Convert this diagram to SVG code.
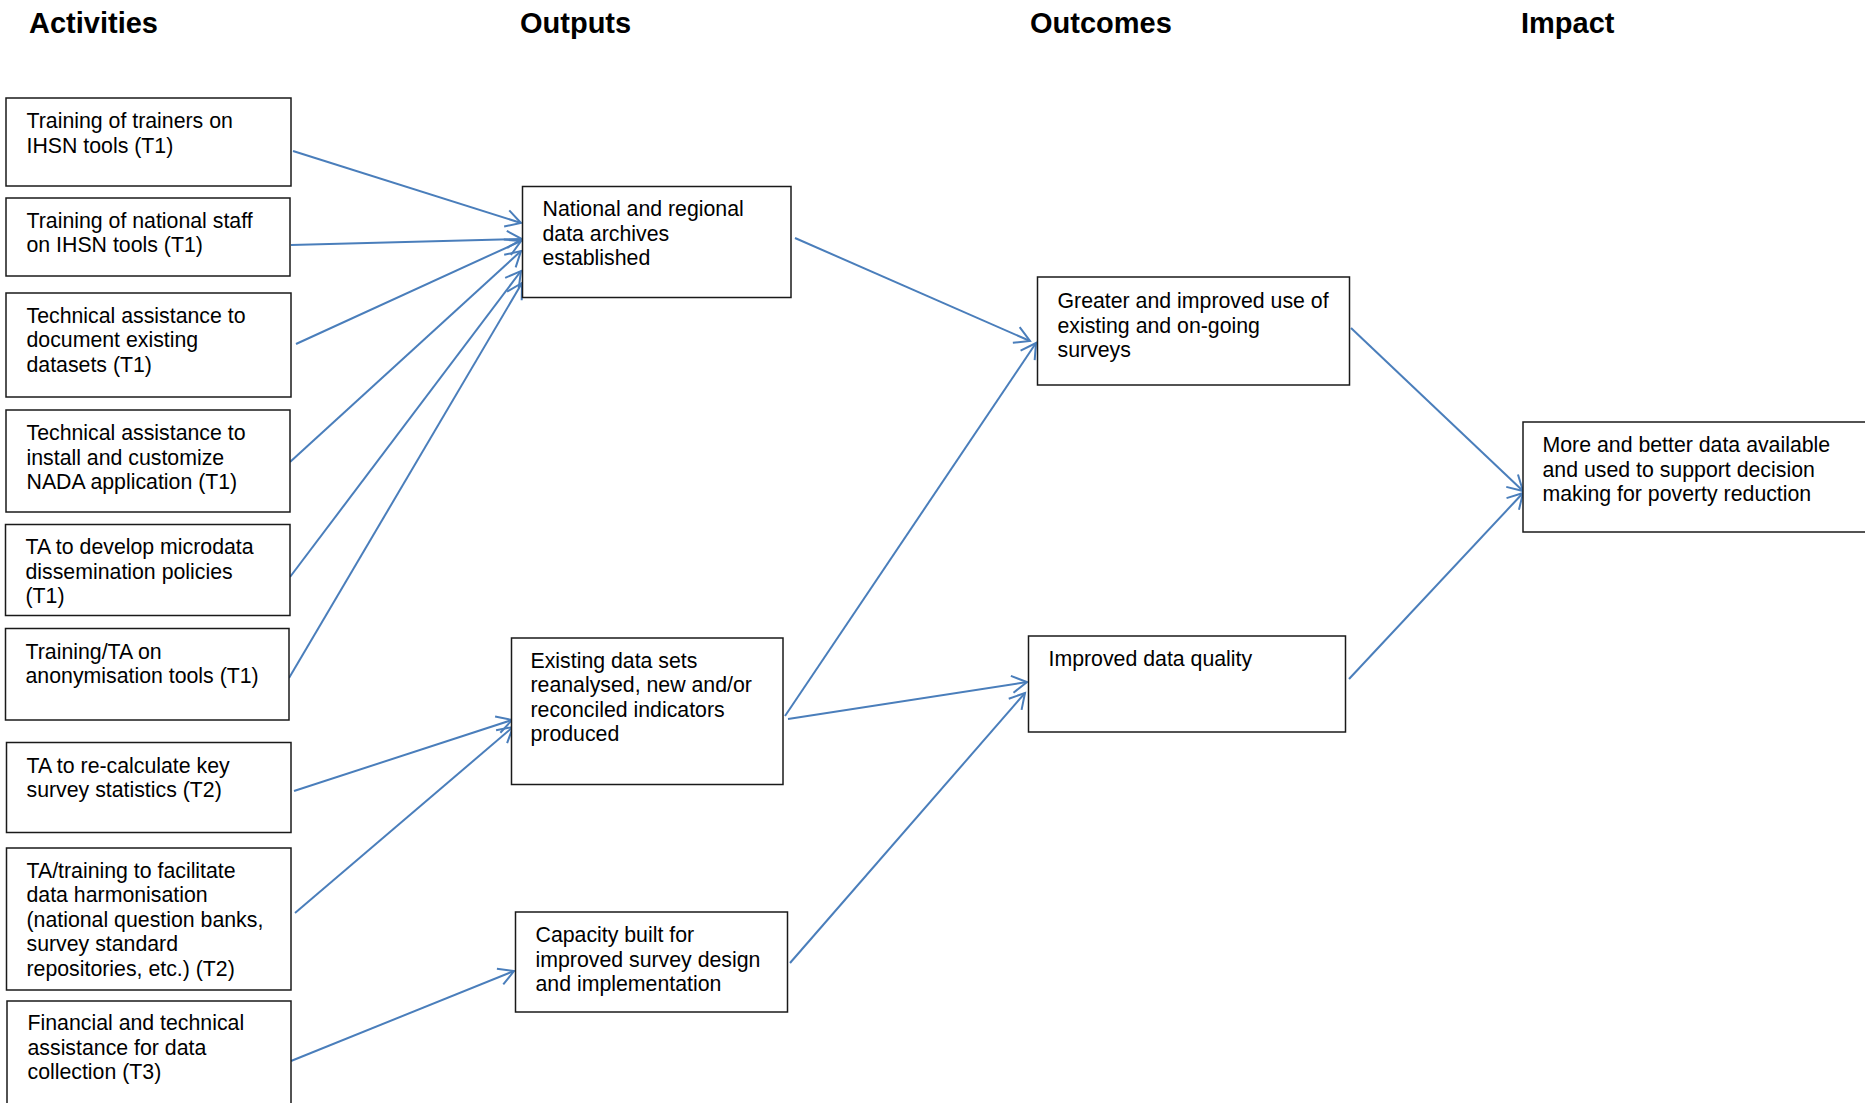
<svg xmlns="http://www.w3.org/2000/svg" width="1865" height="1103" viewBox="0 0 1865 1103">
<style>
.hdr{font-family:"Liberation Sans",Arial,sans-serif;font-size:29px;font-weight:bold;fill:#000}
.box{fill:#fff;stroke:#1a1a1a;stroke-width:1.5}
.t{font-family:"Liberation Sans",Arial,sans-serif;font-size:21.3px;fill:#000}
.c{stroke:#4A7EBB;stroke-width:2;fill:none;marker-end:url(#arr)}
</style>
<defs>
<marker id="arr" markerUnits="userSpaceOnUse" markerWidth="40" markerHeight="40" refX="0" refY="0" viewBox="-20 -20 40 40" orient="auto" overflow="visible">
<path d="M-15,-8.5 L0,0 L-15,8.5" fill="none" stroke="#4A7EBB" stroke-width="2"/>
</marker>
</defs>
<rect width="1865" height="1103" fill="#fff"/>
<g id="headers">
<text class="hdr" x="29" y="33">Activities</text>
<text class="hdr" x="520" y="33">Outputs</text>
<text class="hdr" x="1030" y="33">Outcomes</text>
<text class="hdr" x="1521" y="33">Impact</text>
</g>
<g id="connectors">
<line class="c" x1="293" y1="151" x2="521" y2="223"/>
<line class="c" x1="291" y1="245" x2="522" y2="239"/>
<line class="c" x1="296" y1="344" x2="521" y2="241"/>
<line class="c" x1="290" y1="462" x2="521" y2="251"/>
<line class="c" x1="290" y1="577" x2="521" y2="271"/>
<line class="c" x1="289" y1="678" x2="522" y2="283"/>
<line class="c" x1="294" y1="791" x2="512" y2="720"/>
<line class="c" x1="295" y1="913" x2="513" y2="727"/>
<line class="c" x1="291" y1="1061" x2="514" y2="971"/>
<line class="c" x1="795" y1="238" x2="1030" y2="341"/>
<line class="c" x1="785" y1="716" x2="1036" y2="343"/>
<line class="c" x1="788" y1="719" x2="1027" y2="682"/>
<line class="c" x1="790" y1="963" x2="1025" y2="693"/>
<line class="c" x1="1351" y1="328" x2="1523" y2="491"/>
<line class="c" x1="1349" y1="679" x2="1523" y2="493"/>
</g>
<g id="a1"><rect class="box" x="6" y="98" width="285" height="88"/>
<text class="t" x="26.5" y="128">Training of trainers on</text>
<text class="t" x="26.5" y="152.5">IHSN tools (T1)</text></g>
<g id="a2"><rect class="box" x="6" y="198" width="284" height="78"/>
<text class="t" x="26.5" y="227.5">Training of national staff</text>
<text class="t" x="26.5" y="252">on IHSN tools (T1)</text></g>
<g id="a3"><rect class="box" x="6" y="293" width="285" height="104"/>
<text class="t" x="26.5" y="322.5">Technical assistance to</text>
<text class="t" x="26.5" y="347">document existing</text>
<text class="t" x="26.5" y="371.5">datasets (T1)</text></g>
<g id="a4"><rect class="box" x="6" y="410" width="284" height="102"/>
<text class="t" x="26.5" y="440">Technical assistance to</text>
<text class="t" x="26.5" y="464.5">install and customize</text>
<text class="t" x="26.5" y="489">NADA application (T1)</text></g>
<g id="a5"><rect class="box" x="5.5" y="524.5" width="284.5" height="91"/>
<text class="t" x="25.5" y="554">TA to develop microdata</text>
<text class="t" x="25.5" y="578.5">dissemination policies</text>
<text class="t" x="25.5" y="603">(T1)</text></g>
<g id="a6"><rect class="box" x="5.5" y="628.5" width="283.5" height="91.5"/>
<text class="t" x="25.5" y="658.5">Training/TA on</text>
<text class="t" x="25.5" y="683">anonymisation tools (T1)</text></g>
<g id="a7"><rect class="box" x="6.5" y="742.5" width="284.5" height="90"/>
<text class="t" x="26.5" y="772.5">TA to re-calculate key</text>
<text class="t" x="26.5" y="797">survey statistics (T2)</text></g>
<g id="a8"><rect class="box" x="6.5" y="848" width="284.5" height="142"/>
<text class="t" x="26.5" y="877.5">TA/training to facilitate</text>
<text class="t" x="26.5" y="902">data harmonisation</text>
<text class="t" x="26.5" y="926.5">(national question banks,</text>
<text class="t" x="26.5" y="951">survey standard</text>
<text class="t" x="26.5" y="975.5">repositories, etc.) (T2)</text></g>
<g id="a9"><rect class="box" x="7" y="1001" width="284" height="130"/>
<text class="t" x="27.5" y="1030">Financial and technical</text>
<text class="t" x="27.5" y="1054.5">assistance for data</text>
<text class="t" x="27.5" y="1079">collection (T3)</text></g>
<g id="o1"><rect class="box" x="522.5" y="186.5" width="268.5" height="111"/>
<text class="t" x="542.5" y="216">National and regional</text>
<text class="t" x="542.5" y="240.5">data archives</text>
<text class="t" x="542.5" y="265">established</text></g>
<g id="o2"><rect class="box" x="511.5" y="638" width="271.5" height="146.5"/>
<text class="t" x="530.5" y="667.5">Existing data sets</text>
<text class="t" x="530.5" y="692">reanalysed, new and/or</text>
<text class="t" x="530.5" y="716.5">reconciled indicators</text>
<text class="t" x="530.5" y="741">produced</text></g>
<g id="o3"><rect class="box" x="515.5" y="912" width="272" height="100"/>
<text class="t" x="535.5" y="942">Capacity built for</text>
<text class="t" x="535.5" y="966.5">improved survey design</text>
<text class="t" x="535.5" y="991">and implementation</text></g>
<g id="c1"><rect class="box" x="1037.5" y="277" width="312" height="108"/>
<text class="t" x="1057.5" y="308">Greater and improved use of</text>
<text class="t" x="1057.5" y="332.5">existing and on-going</text>
<text class="t" x="1057.5" y="357">surveys</text></g>
<g id="c2"><rect class="box" x="1028.5" y="636" width="317" height="96"/>
<text class="t" x="1048.5" y="665.5">Improved data quality</text></g>
<g id="i1"><rect class="box" x="1523" y="422" width="360" height="110"/>
<text class="t" x="1542.5" y="452">More and better data available</text>
<text class="t" x="1542.5" y="476.5">and used to support decision</text>
<text class="t" x="1542.5" y="501">making for poverty reduction</text></g>
</svg>
